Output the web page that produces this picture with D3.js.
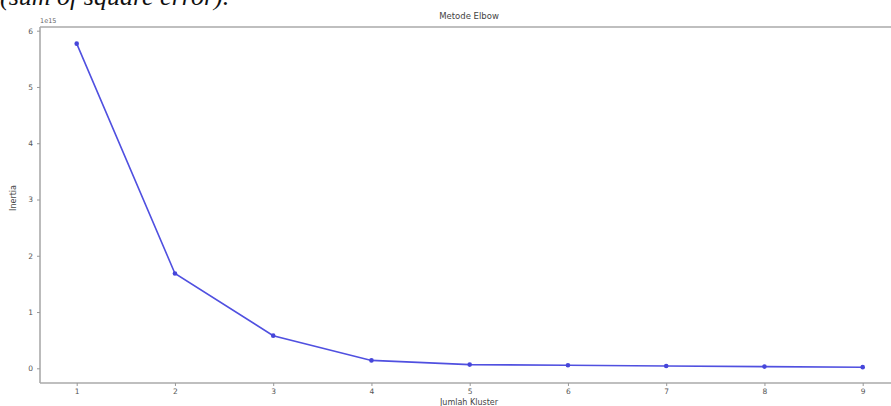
<!DOCTYPE html>
<html>
<head>
<meta charset="utf-8">
<script src="https://cdn.jsdelivr.net/npm/d3@7"></script>
<style>
  html, body { margin: 0; padding: 0; background: #fff; }
  svg { display: block; }
</style>
</head>
<body>
<div id="chart"></div>
<script>
const clusters = [1, 2, 3, 4, 5, 6, 7, 8, 9];
const sse = [5.77, 1.685, 0.58, 0.14, 0.066, 0.053, 0.04, 0.03, 0.02]; // ×1e15
const yTicks = [0, 1, 2, 3, 4, 5, 6];
const xTicks = [1, 2, 3, 4, 5, 6, 7, 8, 9];
const title = "Metode Elbow";
const xLabel = "Jumlah Kluster";
const yLabel = "Inertia";
const offsetLabel = "1e15";
const captionText = "(sum of square error).";

const W = 891, H = 406;
const svg = d3.select("#chart").append("svg").attr("width", W).attr("height", H);

const plotLeft = 40, plotTop = 27, plotBottom = 383;
const x = d3.scaleLinear().domain([0.6, 9.4]).range([37.4, 902]);
const y = d3.scaleLinear().domain([0, 6]).range([368.3, 30.7]);

// caption fragment at top
svg.append("text")
  .attr("x", 0).attr("y", 5)
  .style("font-family", "'Liberation Serif', 'DejaVu Serif', serif")
  .attr("font-style", "italic")
  .attr("font-size", 26)
  .attr("fill", "#111")
  .text(captionText);

// spines
const spine = "#aaaaaa";
svg.append("line").attr("x1", plotLeft).attr("x2", W).attr("y1", plotTop).attr("y2", plotTop).attr("stroke", spine).attr("stroke-width", 1.6);
svg.append("line").attr("x1", plotLeft).attr("x2", W).attr("y1", plotBottom).attr("y2", plotBottom).attr("stroke", spine).attr("stroke-width", 1.6);
svg.append("line").attr("x1", plotLeft).attr("x2", plotLeft).attr("y1", plotTop).attr("y2", plotBottom).attr("stroke", spine).attr("stroke-width", 1.6);

// axes
const xAxis = svg.append("g").attr("transform", `translate(0,${plotBottom})`)
  .call(d3.axisBottom(x).tickValues(xTicks).tickFormat(d3.format("d")).tickSize(3).tickPadding(3));
const yAxis = svg.append("g").attr("transform", `translate(${plotLeft},0)`)
  .call(d3.axisLeft(y).tickValues(yTicks).tickFormat(d3.format("d")).tickSize(3).tickPadding(4));
[xAxis, yAxis].forEach(g => {
  g.select(".domain").remove();
  g.selectAll(".tick line").attr("stroke", "#999");
  g.selectAll(".tick text").attr("fill", "#555").attr("font-size", 7.5)
    .attr("font-family", "DejaVu Sans, sans-serif");
});

// line
const line = d3.line().x((d, i) => x(clusters[i])).y(d => y(d));
svg.append("path").datum(sse)
  .attr("d", line).attr("fill", "none")
  .attr("stroke", "#5050e0").attr("stroke-width", 1.6);
svg.selectAll("circle.pt").data(sse).enter().append("circle")
  .attr("class", "pt")
  .attr("cx", (d, i) => x(clusters[i])).attr("cy", d => y(d))
  .attr("r", 2.3).attr("fill", "#4646da");

// texts
svg.append("text").attr("x", 469).attr("y", 19).attr("text-anchor", "middle")
  .attr("font-family", "DejaVu Sans, sans-serif").attr("font-size", 8.5).attr("fill", "#444")
  .text(title);
svg.append("text").attr("x", 40).attr("y", 23)
  .attr("font-family", "DejaVu Sans, sans-serif").attr("font-size", 6.5).attr("fill", "#666")
  .text(offsetLabel);
svg.append("text").attr("x", 469).attr("y", 405).attr("text-anchor", "middle")
  .attr("font-family", "DejaVu Sans, sans-serif").attr("font-size", 8).attr("fill", "#444")
  .text(xLabel);
svg.append("text").attr("transform", "translate(16,198) rotate(-90)").attr("text-anchor", "middle")
  .attr("font-family", "DejaVu Sans, sans-serif").attr("font-size", 8).attr("fill", "#444")
  .text(yLabel);
</script>
</body>
</html>
